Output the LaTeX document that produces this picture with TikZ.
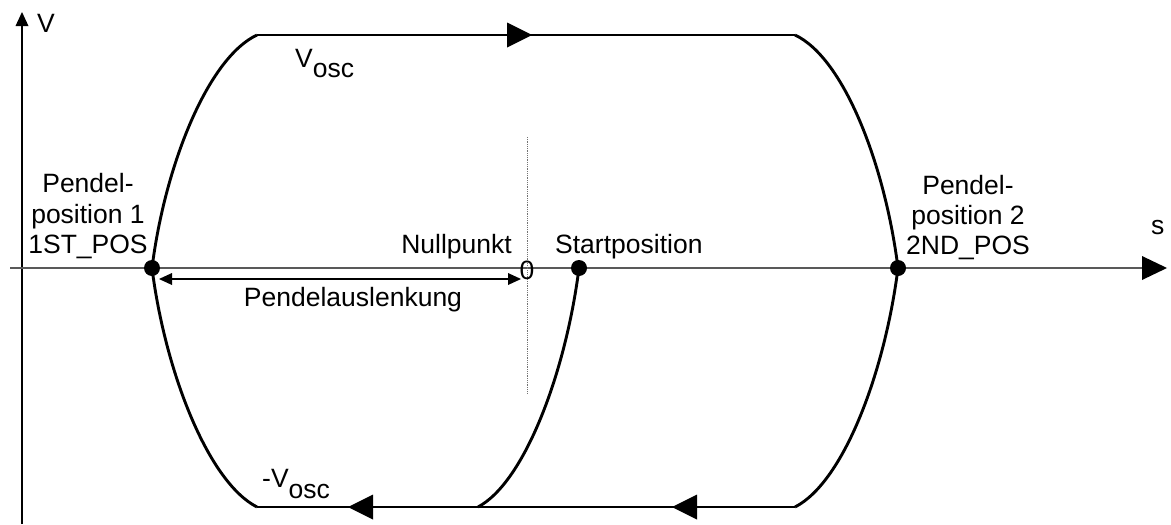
\documentclass[tikz,border=0pt]{standalone}
\usepackage{fontspec}
\setmainfont{Liberation Sans}
\begin{document}
\begin{tikzpicture}[x=1pt,y=-1pt,
  txt/.style={inner sep=0pt,font=\fontsize{26.5}{30.5}\selectfont},
  curve/.style={line width=2.9pt,line join=round},
  tri/.style={fill=black},
  dot/.style={circle,fill=black,inner sep=0pt,minimum size=16pt}]
\useasboundingbox (0,0) rectangle (1171,525);
% axes
\coordinate (vbot) at (22,524);
\coordinate (vtop) at (22,26);
\coordinate (sl) at (10,268);
\coordinate (sr) at (1142,268);
\draw[line width=1.6pt] (vbot) -- (vtop);
\fill[tri] (22,12) -- (15.5,26) -- (28.5,26) -- cycle;
\draw[line width=1.5pt,black!65] (sl) -- (sr);
\fill[tri] (1167,268) -- (1142,256) -- (1142,280) -- cycle;
\node[txt,anchor=base west] (vlab) at (37,32) {V};
\node[txt,anchor=base west] (slab) at (1151,234) {s};
% dotted zero line
\coordinate (zt) at (527,137);
\coordinate (zb) at (527,393);
\draw[black!55,line width=0.8pt,densely dotted] (zt) -- (zb);
% points
\node[dot] (p1) at (152,268) {};
\node[dot] (p2) at (898,268) {};
\node[dot] (ps) at (579,268) {};
% top and bottom lines
\coordinate (tl) at (257,35);
\coordinate (tr) at (795,35);
\coordinate (bl) at (257,507);
\coordinate (bm) at (478,507);
\coordinate (br) at (795,507);
\draw[curve] (tl) -- (tr);
\draw[curve] (bl) -- (br);
\fill[tri] (532,35) -- (507,22.5) -- (507,47.5) -- cycle;
\fill[tri] (348,507) -- (373,494.5) -- (373,519.5) -- cycle;
\fill[tri] (672,507) -- (697,494.5) -- (697,519.5) -- cycle;
% curves
\draw[curve] (p1.center) .. controls (165,165) and (208,58) .. (tl);
\draw[curve] (p1.center) .. controls (165,371) and (208,482) .. (bl);
\draw[curve] (p2.center) .. controls (885,165) and (844,58) .. (tr);
\draw[curve] (p2.center) .. controls (885,371) and (844,482) .. (br);
\draw[curve] (ps.center) .. controls (566,371) and (525,482) .. (bm);
% Pendelauslenkung arrow
\coordinate (al) at (172,279);
\coordinate (ar) at (508,279);
\draw[line width=1.4pt] (al) -- (ar);
\fill[tri] (159,279) -- (172,273) -- (172,285) -- cycle;
\fill[tri] (521,279) -- (508,273) -- (508,285) -- cycle;
% labels
\node[txt] (zero) at (527,270) {0};
\node[txt,anchor=base east] (null) at (512,253) {Nullpunkt};
\node[txt,anchor=base west] (start) at (555,253) {Startposition};
\node[txt,anchor=base] (ausl) at (353,306) {Pendelauslenkung};
\node[txt,anchor=base] (l1a) at (88,192) {Pendel-};
\node[txt,anchor=base] (l1b) at (88,223) {position 1};
\node[txt,anchor=base] (l1c) at (88,253) {1ST\_POS};
\node[txt,anchor=base] (l2a) at (968,194) {Pendel-};
\node[txt,anchor=base] (l2b) at (968,224) {position 2};
\node[txt,anchor=base] (l2c) at (968,254) {2ND\_POS};
\node[txt,anchor=base west] (vosc) at (295,67) {V\raisebox{-10pt}{osc}};
\node[txt,anchor=base west] (mvosc) at (262,487) {-V\raisebox{-11pt}{osc}};
\end{tikzpicture}
\end{document}
